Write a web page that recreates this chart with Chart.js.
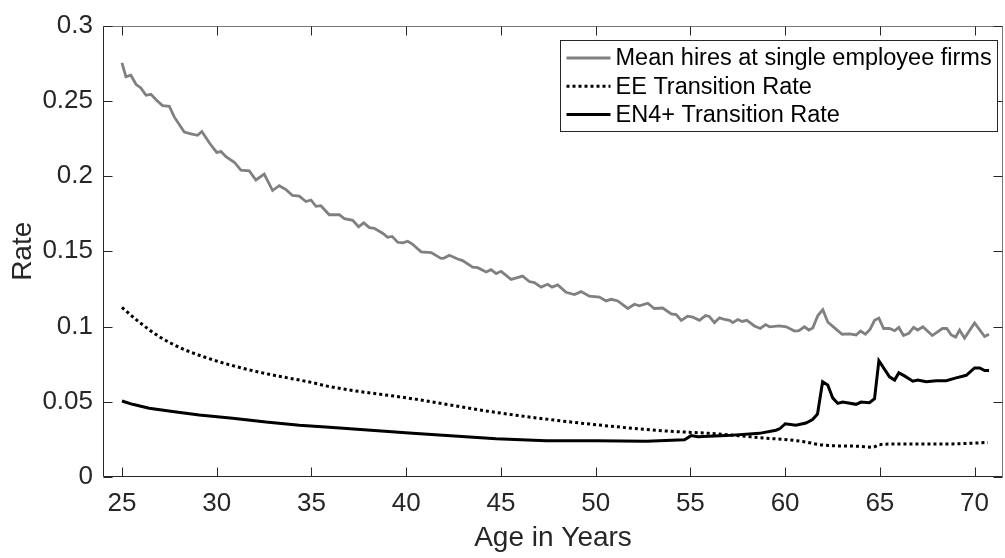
<!DOCTYPE html>
<html>
<head>
<meta charset="utf-8">
<script src="https://cdn.jsdelivr.net/npm/chart.js@4.4.1/dist/chart.umd.min.js"></script>
<style>
  html, body { margin: 0; padding: 0; background: #fff; }
  #wrap { width: 1005px; height: 558px; }
</style>
</head>
<body>
<div id="wrap"><canvas id="chart" width="1005" height="558"></canvas></div>
<script>
// --- dados ---
const hiresAges = [25.00, 25.21, 25.47, 25.74, 26.00, 26.27, 26.53, 26.80, 27.14, 27.50, 27.76, 28.29, 28.64, 28.99, 29.22, 29.61,
  30.00, 30.23, 30.49, 30.93, 31.28, 31.72, 32.07, 32.51, 32.95, 33.30, 33.66, 34.00, 34.36, 34.71, 34.98, 35.24, 35.50, 35.94,
  36.47, 36.74, 37.18, 37.49, 37.76, 38.06, 38.32, 38.76, 39.02, 39.26, 39.55, 39.82, 40.08, 40.31, 40.79, 41.32, 41.84, 42.00,
  42.28, 42.72, 42.98, 43.51, 43.78, 44.22, 44.48, 44.75, 45.01, 45.54, 46.15, 46.50, 46.77, 47.12, 47.47, 47.70, 48.00, 48.44,
  48.88, 49.23, 49.67, 50.20, 50.55, 50.82, 51.17, 51.70, 52.05, 52.31, 52.75, 53.10, 53.54, 53.99, 54.25, 54.52, 54.86, 55.13,
  55.48, 55.80, 56.00, 56.27, 56.54, 56.80, 57.07, 57.24, 57.50, 57.74, 57.98, 58.38, 58.69, 58.97, 59.18, 59.70, 60.06, 60.50,
  60.73, 61.02, 61.25, 61.46, 61.73, 61.99, 62.25, 62.61, 63.01, 63.40, 63.75, 63.98, 64.24, 64.49, 64.72, 64.95, 65.20, 65.51,
  65.78, 66.00, 66.25, 66.53, 66.78, 67.00, 67.27, 67.77, 68.30, 68.53, 68.77, 69.00, 69.21, 69.47, 70.00, 70.53, 70.76];
const hiresValues = [0.2752, 0.2660, 0.2670, 0.2610, 0.2586, 0.2537, 0.2543, 0.2507, 0.2468, 0.2464, 0.2393, 0.2292, 0.2281, 0.2271, 0.2296, 0.2221,
  0.2157, 0.2163, 0.2129, 0.2092, 0.2039, 0.2034, 0.1974, 0.2013, 0.1904, 0.1936, 0.1910, 0.1871, 0.1867, 0.1831, 0.1841, 0.1799, 0.1803, 0.1743,
  0.1743, 0.1717, 0.1706, 0.1663, 0.1689, 0.1657, 0.1653, 0.1620, 0.1593, 0.1599, 0.1560, 0.1556, 0.1567, 0.1550, 0.1496, 0.1492, 0.1453, 0.1455,
  0.1474, 0.1449, 0.1438, 0.1395, 0.1391, 0.1363, 0.1378, 0.1352, 0.1367, 0.1313, 0.1335, 0.1299, 0.1292, 0.1262, 0.1281, 0.1262, 0.1277, 0.1228,
  0.1213, 0.1232, 0.1202, 0.1196, 0.1170, 0.1181, 0.1170, 0.1120, 0.1148, 0.1138, 0.1155, 0.1120, 0.1123, 0.1084, 0.1080, 0.1041, 0.1069, 0.1062,
  0.1041, 0.1073, 0.1067, 0.1026, 0.1058, 0.1047, 0.1041, 0.1026, 0.1047, 0.1034, 0.1041, 0.1004, 0.0987, 0.1013, 0.0998, 0.1004, 0.0998, 0.0970,
  0.0972, 0.0998, 0.0977, 0.0991, 0.1073, 0.1112, 0.1030, 0.0991, 0.0949, 0.0951, 0.0944, 0.0970, 0.0949, 0.0983, 0.1041, 0.1056, 0.0987, 0.0987,
  0.0972, 0.0994, 0.0940, 0.0955, 0.0994, 0.0977, 0.0998, 0.0940, 0.0987, 0.0987, 0.0944, 0.0930, 0.0977, 0.0923, 0.1024, 0.0934, 0.0949];

const eeAges = [25.00, 25.91, 26.97, 28.20, 29.43, 30.84, 32.60, 35.06, 35.94, 40.34, 44.75, 49.15, 53.70, 56.00, 58.64,
  60.93, 61.81, 62.51, 63.92, 64.63, 64.98, 65.69, 67.45, 69.21, 70.70];
const eeValues = [0.1127, 0.1030, 0.0933, 0.0852, 0.0794, 0.0740, 0.0687, 0.0627, 0.0601, 0.0520, 0.0429, 0.0359, 0.0306, 0.0290, 0.0262,
  0.0236, 0.0215, 0.0208, 0.0204, 0.0198, 0.0215, 0.0219, 0.0219, 0.0221, 0.0230];

const en4Ages = [25.00, 25.56, 26.44, 27.67, 29.08, 30.84, 32.60, 34.36, 35.94, 40.34, 44.75, 47.39, 50.03, 52.67, 54.69, 55.04,
  55.39, 56.89, 58.64, 59.52, 59.73, 60.01, 60.57, 61.10, 61.45, 61.71, 61.98, 62.25, 62.51, 62.78, 63.04, 63.75, 64.01, 64.45,
  64.72, 64.95, 65.51, 65.78, 66.00, 66.30, 66.74, 67.00, 67.45, 67.97, 68.50, 69.03, 69.56, 70.00, 70.27, 70.53, 70.76];
const en4Values = [0.0505, 0.0483, 0.0457, 0.0436, 0.0412, 0.0391, 0.0365, 0.0344, 0.0330, 0.0290, 0.0254, 0.0241, 0.0241, 0.0238, 0.0247, 0.0275,
  0.0268, 0.0275, 0.0290, 0.0311, 0.0322, 0.0354, 0.0344, 0.0359, 0.0382, 0.0418, 0.0633, 0.0612, 0.0526, 0.0489, 0.0498, 0.0483, 0.0498, 0.0494,
  0.0520, 0.0773, 0.0666, 0.0644, 0.0692, 0.0672, 0.0637, 0.0644, 0.0633, 0.0640, 0.0640, 0.0659, 0.0676, 0.0725, 0.0725, 0.0708, 0.0708];

const xTicks = [25, 30, 35, 40, 45, 50, 55, 60, 65, 70];
const yTicks = [0, 0.05, 0.1, 0.15, 0.2, 0.25, 0.3];
const seriesLabels = ['Mean hires at single employee firms', 'EE Transition Rate', 'EN4+ Transition Rate'];

const FONT = '"Liberation Sans", Arial, Helvetica, sans-serif';
const AXIS_COLOR = '#262626';

function toPoints(xs, ys) {
    return xs.map((x, i) => ({ x: x, y: ys[i] }));
}

// Caixa, ticks para dentro e legenda no estilo MATLAB
const boxPlugin = {
    id: 'matlabBox',
    afterDatasetsDraw(chart) {
        const { ctx, chartArea: a, scales } = chart;
        const L = Math.round(a.left) + 0.5, R = Math.round(a.right) - 0.5;
        const T = Math.round(a.top) + 0.5, B = Math.round(a.bottom) - 0.5;
        const tick = 9;
        ctx.save();
        ctx.lineWidth = 1;
        // bordas
        ctx.strokeStyle = '#777';
        ctx.beginPath();
        ctx.moveTo(L, T); ctx.lineTo(R, T); ctx.lineTo(R, B);
        ctx.stroke();
        ctx.strokeStyle = AXIS_COLOR;
        ctx.beginPath();
        ctx.moveTo(L, T); ctx.lineTo(L, B); ctx.lineTo(R, B);
        ctx.stroke();
        // ticks
        ctx.beginPath();
        xTicks.forEach(v => {
            const px = Math.round(scales.x.getPixelForValue(v)) + 0.5;
            ctx.moveTo(px, B); ctx.lineTo(px, B - tick);
            ctx.moveTo(px, T); ctx.lineTo(px, T + tick);
        });
        yTicks.forEach(v => {
            const py = Math.round(scales.y.getPixelForValue(v)) + 0.5;
            ctx.moveTo(L, py); ctx.lineTo(L + tick, py);
            ctx.moveTo(R, py); ctx.lineTo(R - tick, py);
        });
        ctx.stroke();

        // legenda
        const lx = Math.round(a.right - 443) + 0.5, ly = Math.round(a.top + 14) + 0.5;
        const lw = 437, lh = 91;
        ctx.fillStyle = '#fff';
        ctx.fillRect(lx, ly, lw, lh);
        ctx.strokeStyle = AXIS_COLOR;
        ctx.strokeRect(lx, ly, lw, lh);
        ctx.font = '23.5px ' + FONT;
        ctx.textBaseline = 'middle';
        ctx.fillStyle = '#000';
        chart.data.datasets.forEach((ds, i) => {
            const y = ly + 17.5 + i * 28.3;
            ctx.save();
            ctx.strokeStyle = ds.borderColor;
            ctx.lineWidth = ds.borderWidth;
            ctx.setLineDash(ds.borderDash || []);
            ctx.lineCap = 'butt';
            ctx.beginPath();
            ctx.moveTo(lx + 6, y);
            ctx.lineTo(lx + 50, y);
            ctx.stroke();
            ctx.restore();
            ctx.fillText(ds.label, lx + 55, y + 1);
        });
        ctx.restore();
    }
};

const chart = new Chart(document.getElementById('chart').getContext('2d'), {
    type: 'line',
    data: {
        datasets: [
            {
                label: seriesLabels[0],
                data: toPoints(hiresAges, hiresValues),
                borderColor: '#808080',
                borderWidth: 2.8,
                pointRadius: 0,
                tension: 0,
                fill: false
            },
            {
                label: seriesLabels[1],
                data: toPoints(eeAges, eeValues),
                borderColor: '#000',
                borderWidth: 3,
                borderDash: [3, 3],
                borderCapStyle: 'butt',
                pointRadius: 0,
                cubicInterpolationMode: 'monotone',
                fill: false
            },
            {
                label: seriesLabels[2],
                data: toPoints(en4Ages, en4Values),
                borderColor: '#000',
                borderWidth: 3,
                pointRadius: 0,
                tension: 0,
                fill: false
            }
        ]
    },
    options: {
        responsive: false,
        animation: false,
        layout: { padding: { top: 11, right: 2, left: 0, bottom: 0 } },
        plugins: {
            legend: { display: false },
            tooltip: { enabled: false }
        },
        scales: {
            x: {
                type: 'linear',
                min: 24,
                max: 71.5,
                afterBuildTicks: (s) => { s.ticks = xTicks.map(v => ({ value: v })); },
                afterFit: (s) => { s.height = 81; },
                grid: { display: false, drawTicks: false },
                border: { display: false },
                ticks: {
                    padding: 11,
                    maxRotation: 0,
                    color: AXIS_COLOR,
                    font: { family: FONT, size: 26 },
                    callback: (v) => String(v)
                },
                title: {
                    display: true,
                    text: 'Age in Years',
                    color: AXIS_COLOR,
                    font: { family: FONT, size: 28 },
                    padding: { top: 0, bottom: 3 }
                }
            },
            y: {
                min: 0,
                max: 0.3,
                afterBuildTicks: (s) => { s.ticks = yTicks.map(v => ({ value: v })); },
                afterFit: (s) => { s.width = 103; },
                grid: { display: false, drawTicks: false },
                border: { display: false },
                ticks: {
                    padding: 10,
                    color: AXIS_COLOR,
                    font: { family: FONT, size: 26 },
                    callback: (v) => String(+v.toFixed(2))
                },
                title: {
                    display: true,
                    text: 'Rate',
                    color: AXIS_COLOR,
                    font: { family: FONT, size: 28 },
                    padding: { top: 6, bottom: 0 }
                }
            }
        }
    },
    plugins: [boxPlugin]
});
</script>
</body>
</html>
